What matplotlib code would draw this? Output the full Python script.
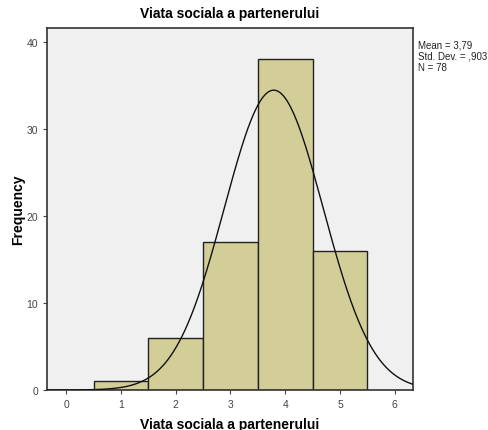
import numpy as np
import matplotlib.pyplot as plt

plt.rcParams['font.family'] = ['Liberation Sans', 'DejaVu Sans']

# date histograma
bin_centers = [1, 2, 3, 4, 5]
counts = [1, 6, 17, 38, 16]
mean_val = 3.79
std_val = 0.903
n_total = 78
x_ticks = [0, 1, 2, 3, 4, 5, 6]
y_ticks = [0, 10, 20, 30, 40]

fig = plt.figure(figsize=(4.88, 4.31), dpi=100)
ax = fig.add_axes([0.0963, 0.0928, 0.7497, 0.8399])
ax.set_facecolor('#f0f0f0')

ax.bar(bin_centers, counts, width=1.0, color='#d3ce97', edgecolor='#222222', linewidth=1.0, zorder=2)

# curba normala (scalata la N * latimea bin-ului)
xs = np.linspace(-0.35, 6.33, 400)
ys = n_total * 1.0 / (std_val * np.sqrt(2 * np.pi)) * np.exp(-0.5 * ((xs - mean_val) / std_val) ** 2)
ax.plot(xs, ys, color='#111111', linewidth=1.0, zorder=3)

ax.set_xlim(-0.35, 6.33)
ax.set_ylim(0, 41.6)
ax.set_xticks(x_ticks)
ax.set_yticks(y_ticks)
ax.tick_params(labelsize=7.5, colors='#444444', length=3, width=0.8)
for s in ax.spines.values():
    s.set_color('#333333')
    s.set_linewidth(1.2)

ax.set_title('Viata sociala a partenerului', fontsize=10, fontweight='bold', pad=8)
ax.set_xlabel('Viata sociala a partenerului', fontsize=10, fontweight='bold', labelpad=6)
ax.set_ylabel('Frequency', fontsize=10, fontweight='bold', labelpad=1)

fig.text(0.856, 0.905, 'Mean = 3,79\nStd. Dev. = ,903\nN = 78', fontsize=7,
         va='top', ha='left', color='#222222', linespacing=1.1)

fig.savefig('out.png', dpi=100)
